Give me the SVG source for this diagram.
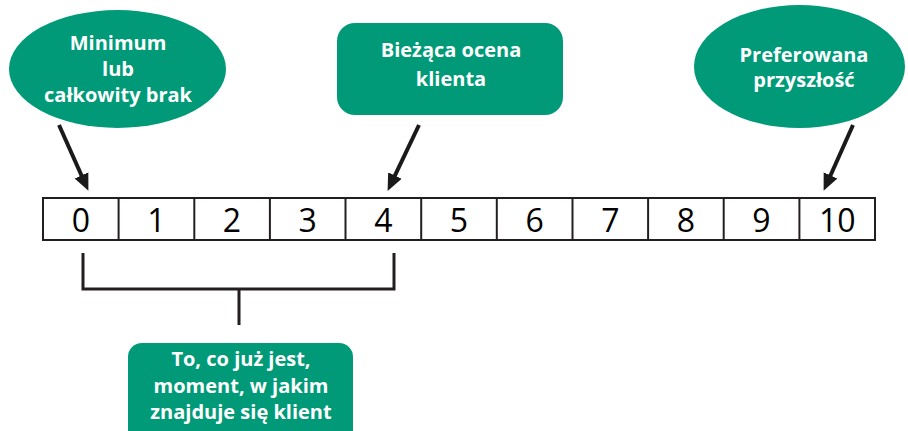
<svg xmlns="http://www.w3.org/2000/svg" width="908" height="431" viewBox="0 0 908 431">
  <defs>
    <style>
      .bubble { fill: #009a78; }
      .lbl { font-family: "Open Sans", "Liberation Sans", sans-serif; font-weight: bold; font-size: 20px; fill: #ffffff; text-anchor: middle; }
      .cell { fill: #ffffff; stroke: #231f20; stroke-width: 2; }
      .num { font-family: "Open Sans", "Liberation Sans", sans-serif; font-size: 32px; fill: #000000; text-anchor: middle; }
      .arrow { stroke: #1a1a1a; stroke-width: 4; fill: none; marker-end: url(#head); }
      .bracket { stroke: #231f20; stroke-width: 3; fill: none; }
    </style>
    <marker id="head" markerUnits="userSpaceOnUse" markerWidth="18" markerHeight="16" refX="4" refY="7.5" orient="auto" viewBox="0 0 18 15">
      <path d="M0,0 L17,7.5 L0,15 Z" fill="#1a1a1a"/>
    </marker>
  </defs>

  <g id="node-minimum">
    <ellipse class="bubble" cx="117.5" cy="69" rx="108.5" ry="59"/>
    <text class="lbl" x="118" y="50">Minimum</text>
    <text class="lbl" x="118" y="76">lub</text>
    <text class="lbl" x="118" y="102">całkowity brak</text>
  </g>

  <g id="node-current">
    <rect class="bubble" x="337" y="23" width="226" height="92" rx="18" ry="18"/>
    <text class="lbl" x="451" y="57">Bieżąca ocena</text>
    <text class="lbl" x="451" y="86">klienta</text>
  </g>

  <g id="node-future">
    <ellipse class="bubble" cx="799.5" cy="66.5" rx="105.5" ry="61.5"/>
    <text class="lbl" x="804" y="62">Preferowana</text>
    <text class="lbl" x="804" y="87">przyszłość</text>
  </g>

  <g id="scale">
    <rect class="cell" x="43" y="198" width="832" height="42"/>
    <g stroke="#231f20" stroke-width="2">
      <line x1="118.6" y1="198" x2="118.6" y2="240"/>
      <line x1="194.3" y1="198" x2="194.3" y2="240"/>
      <line x1="269.9" y1="198" x2="269.9" y2="240"/>
      <line x1="345.5" y1="198" x2="345.5" y2="240"/>
      <line x1="421.2" y1="198" x2="421.2" y2="240"/>
      <line x1="496.8" y1="198" x2="496.8" y2="240"/>
      <line x1="572.5" y1="198" x2="572.5" y2="240"/>
      <line x1="648.1" y1="198" x2="648.1" y2="240"/>
      <line x1="723.7" y1="198" x2="723.7" y2="240"/>
      <line x1="799.4" y1="198" x2="799.4" y2="240"/>
    </g>
    <text class="num" x="81" y="232">0</text>
    <text class="num" x="156.5" y="232">1</text>
    <text class="num" x="232" y="232">2</text>
    <text class="num" x="307.7" y="232">3</text>
    <text class="num" x="383.4" y="232">4</text>
    <text class="num" x="459" y="232">5</text>
    <text class="num" x="534.6" y="232">6</text>
    <text class="num" x="610.3" y="232">7</text>
    <text class="num" x="685.9" y="232">8</text>
    <text class="num" x="761.5" y="232">9</text>
    <text class="num" x="837.2" y="232">10</text>
  </g>

  <g id="node-present">
    <rect class="bubble" x="128" y="343" width="225" height="110" rx="14" ry="14"/>
    <text class="lbl" x="241" y="366">To, co już jest,</text>
    <text class="lbl" x="241" y="393">moment, w jakim</text>
    <text class="lbl" x="241" y="419">znajduje się klient</text>
  </g>

  <g id="connectors">
    <line class="arrow" x1="59" y1="125" x2="83.1" y2="179"/>
    <line class="arrow" x1="419" y1="125" x2="393.2" y2="179.2"/>
    <line class="arrow" x1="853" y1="125" x2="828.9" y2="179"/>
    <path class="bracket" d="M83,253 V289 H394 V253 M239,289 V325"/>
  </g>
</svg>
